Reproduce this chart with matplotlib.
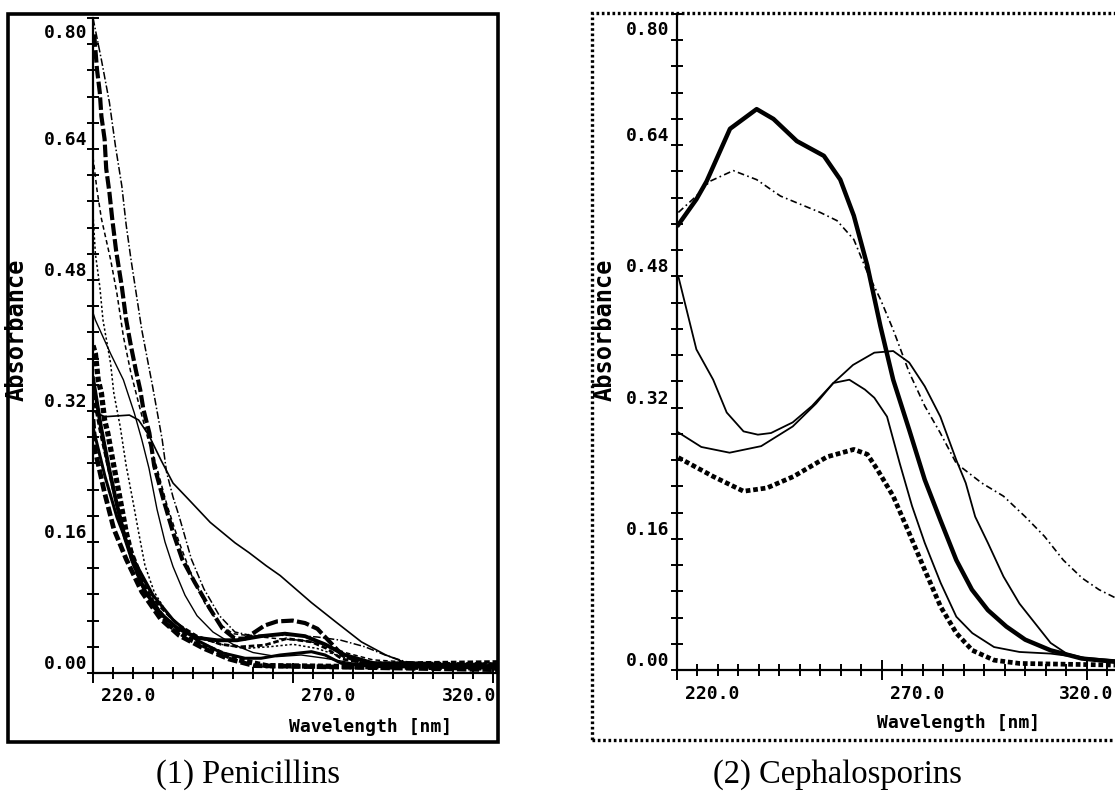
import matplotlib
matplotlib.use("Agg")
import matplotlib.pyplot as plt
from matplotlib.ticker import MultipleLocator, FixedLocator
from matplotlib.transforms import offset_copy
from matplotlib.patches import Rectangle

# ---------------- data ----------------
x_ticklabels = ["220.0", "270.0", "320.0"]
x_ticks = [220, 270, 320]
y_ticks = [0.00, 0.16, 0.32, 0.48, 0.64, 0.80]
y_ticklabels = ["0.00", "0.16", "0.32", "0.48", "0.64", "0.80"]
xlabel = "Wavelength [nm]"
ylabel = "Absorbance"
titles = ["(1) Penicillins", "(2) Cephalosporins"]

# Penicillins
pen1_x = [220, 222.1, 224.1, 225.6, 227.2, 228.3, 229.5, 232.2, 234.9, 237.3, 238.4, 240, 241.5, 244.6, 247.7,
          251.6, 255.5, 259.4, 264, 270, 276, 282, 288, 293, 298, 305, 321]
pen1_y = [0.80, 0.749, 0.697, 0.644, 0.595, 0.547, 0.505, 0.419, 0.35, 0.285, 0.245, 0.215, 0.192, 0.139, 0.103,
          0.07, 0.05, 0.046, 0.046, 0.046, 0.044, 0.04, 0.032, 0.022, 0.014, 0.011, 0.01]
pen2_x = [220.3, 221, 221.7, 222.1, 222.9, 223.3, 224.1, 224.8, 225.8, 227.2, 228.3, 229.5, 230.7, 231.8, 232.6,
          234.1, 235.3, 237.6, 240, 242.3, 245.4, 249.3, 252.4, 255.5, 258, 262.9, 266, 269.9, 273, 276.1, 279.2,
          282.3, 287, 295, 321]
pen2_y = [0.78, 0.737, 0.709, 0.68, 0.652, 0.616, 0.587, 0.555, 0.515, 0.472, 0.431, 0.399, 0.37, 0.346, 0.322,
          0.293, 0.253, 0.212, 0.172, 0.139, 0.111, 0.078, 0.054, 0.042, 0.042, 0.058, 0.063, 0.064, 0.061, 0.054,
          0.038, 0.022, 0.013, 0.01, 0.01]
pen3_x = [220, 220.6, 221.7, 222.5, 224.4, 225.2, 226.8, 228.3, 229.9, 231.4, 233, 235.3, 238.4, 242, 247, 252,
          258, 264, 270, 276, 282, 290, 321]
pen3_y = [0.56, 0.512, 0.472, 0.431, 0.378, 0.342, 0.301, 0.253, 0.212, 0.172, 0.131, 0.099, 0.074, 0.055, 0.042,
          0.035, 0.03, 0.032, 0.035, 0.03, 0.02, 0.013, 0.012]
pen4_x = [220, 221, 222.1, 224.4, 226, 227.6, 229.5, 231.8, 233.8, 236, 238.5, 241.5, 244.6, 248, 251.6, 255, 260,
          266, 272, 278, 283, 290, 300, 321]
pen4_y = [0.63, 0.59, 0.555, 0.505, 0.463, 0.411, 0.366, 0.322, 0.285, 0.25, 0.205, 0.16, 0.12, 0.085, 0.06, 0.048,
          0.045, 0.042, 0.04, 0.035, 0.025, 0.016, 0.013, 0.012]
pen5_x = [220, 220.6, 224.4, 227.6, 230.3, 232.2, 234, 236, 238, 240, 243, 246, 250, 255, 260, 266, 272, 278, 285,
          321]
pen5_y = [0.44, 0.431, 0.39, 0.358, 0.318, 0.285, 0.25, 0.2, 0.16, 0.13, 0.095, 0.07, 0.05, 0.035, 0.025, 0.02,
          0.022, 0.018, 0.012, 0.009]
pen6_x = [220, 222.9, 229.1, 231.4, 234, 237, 240, 243.9, 249.3, 255.5, 259, 263.3, 266.8, 274.6, 280.8, 287.1,
          293.2, 297.9, 305, 321]
pen6_y = [0.32, 0.313, 0.315, 0.309, 0.29, 0.26, 0.232, 0.212, 0.184, 0.159, 0.147, 0.131, 0.119, 0.086, 0.062,
          0.038, 0.022, 0.013, 0.011, 0.011]
pen7_x = [220, 220.6, 221.3, 222.1, 222.9, 223.7, 225.2, 226.8, 228.3, 229.9, 232.2, 235.3, 239.2, 243.9, 249.3,
          255.5, 263.3, 321]
pen7_y = [0.40, 0.39, 0.358, 0.342, 0.309, 0.293, 0.253, 0.212, 0.172, 0.139, 0.111, 0.082, 0.058, 0.042, 0.03,
          0.017, 0.009, 0.006]
pen8_x = [220, 220.6, 222.9, 225.2, 228.3, 232.2, 236.9, 241.5, 247.7, 254, 260.2, 321]
pen8_y = [0.31, 0.27, 0.22, 0.176, 0.139, 0.099, 0.066, 0.046, 0.03, 0.017, 0.009, 0.004]
pen9_x = [220, 222, 224, 226, 228, 230, 233, 237, 241, 246, 251, 256, 262, 268, 273, 278, 283, 290, 321]
pen9_y = [0.36, 0.30, 0.25, 0.205, 0.165, 0.135, 0.10, 0.072, 0.055, 0.043, 0.04, 0.04, 0.045, 0.048, 0.045,
          0.035, 0.022, 0.012, 0.008]
pen10_x = [220, 222, 225, 228, 232, 236, 241, 246, 252, 257, 262.9, 268.4, 274.6, 278.4, 282.3, 288, 321]
pen10_y = [0.34, 0.29, 0.225, 0.17, 0.12, 0.085, 0.06, 0.045, 0.035, 0.032, 0.034, 0.042, 0.038, 0.03, 0.017,
           0.012, 0.014]
pen11_x = [220, 223, 226, 230, 235, 240, 246, 252, 258, 262, 266.8, 274.6, 278, 282, 290, 321]
pen11_y = [0.30, 0.24, 0.19, 0.14, 0.095, 0.065, 0.04, 0.025, 0.018, 0.018, 0.022, 0.026, 0.022, 0.012, 0.008,
           0.006]

# Cephalosporins
cep1_x = [220.4, 224.8, 227.3, 233, 239.5, 243.6, 249.3, 255.9, 259.9, 263.2, 266.5, 269.7, 272.8, 276.7, 280.5,
          284.3, 288.2, 292, 295.9, 300.4, 305, 311.2, 318.8, 327]
cep1_y = [0.543, 0.574, 0.596, 0.66, 0.684, 0.672, 0.645, 0.627, 0.598, 0.554, 0.493, 0.419, 0.354, 0.293, 0.232,
          0.183, 0.134, 0.098, 0.073, 0.053, 0.037, 0.024, 0.014, 0.01]
cep2_x = [220.4, 224.8, 228.1, 233.8, 239.5, 245.3, 255, 259.1, 263.2, 266.5, 269.7, 272.8, 276.7, 280.5, 284.3,
          288.2, 294.4, 299.7, 305, 309.7, 314.3, 318.9, 323, 327]
cep2_y = [0.558, 0.578, 0.596, 0.609, 0.598, 0.578, 0.558, 0.548, 0.525, 0.485, 0.452, 0.415, 0.363, 0.322, 0.289,
          0.252, 0.228, 0.212, 0.187, 0.163, 0.134, 0.112, 0.098, 0.088]
cep3_x = [220.4, 224.8, 228.9, 232.2, 236.3, 239.8, 243, 248.3, 253, 258.2, 263, 268.2, 272.8, 276.7, 280.5, 284.3,
          288.2, 290.5, 292.8, 295.9, 299.7, 303.6, 307.4, 311.2, 315.1, 320, 327]
cep3_y = [0.48, 0.391, 0.354, 0.314, 0.291, 0.287, 0.289, 0.302, 0.322, 0.35, 0.372, 0.387, 0.389, 0.375, 0.346,
          0.309, 0.256, 0.228, 0.187, 0.155, 0.114, 0.081, 0.057, 0.033, 0.02, 0.014, 0.01]
cep4_x = [220, 226, 232.9, 240.6, 248.3, 254, 258.2, 262.1, 265.9, 268.2, 271.3, 274.4, 277.4, 280.5, 284.4, 288.2,
          292.1, 297.4, 303.6, 311.2, 319, 327]
cep4_y = [0.291, 0.272, 0.265, 0.273, 0.297, 0.325, 0.35, 0.354, 0.342, 0.332, 0.309, 0.252, 0.2, 0.155, 0.106,
          0.065, 0.045, 0.028, 0.022, 0.02, 0.015, 0.012]
cep5_x = [220.4, 228.9, 236.3, 242, 248.5, 256.7, 263.2, 266.5, 269, 272.8, 276.7, 280.5, 284.4, 288.2, 292.1, 297.4,
          303.6, 327]
cep5_y = [0.259, 0.236, 0.218, 0.222, 0.236, 0.26, 0.269, 0.263, 0.244, 0.212, 0.167, 0.122, 0.077, 0.045, 0.024,
          0.012, 0.008, 0.006]

# ---------------- figure ----------------
W, H = 1115, 797
fig = plt.figure(figsize=(W / 100, H / 100), dpi=100)


def fx(px):
    return px / W


def fy(py):
    return 1 - py / H


mono = dict(family="DejaVu Sans Mono", weight="bold", size=13)

# left panel: 220 nm at x=93 px, 4.0 px/nm; 0 at y=673, 0.80 at y=18
axL = fig.add_axes([fx(93), fy(673), (498 - 93) / W, (673 - 18) / H])
axL.set_xlim(220, 220 + (498 - 93) / 4.0)
# right panel: 220 nm at x=676.7 px, 4.1 px/nm; 0 at y=670, 0.80 at y=14
axR = fig.add_axes([fx(676.7), fy(670), (1115 - 676.7) / W, (670 - 14) / H])
axR.set_xlim(220, 220 + (1115 - 676.7) / 4.1)
for ax in (axL, axR):
    ax.set_ylim(0, 0.80)
    ax.patch.set_alpha(0)
    for s in ("top", "right"):
        ax.spines[s].set_visible(False)
    for s in ("left", "bottom"):
        ax.spines[s].set_linewidth(1.6)
    ax.xaxis.set_major_locator(FixedLocator(x_ticks))
    ax.xaxis.set_minor_locator(MultipleLocator(5))
    ax.yaxis.set_major_locator(FixedLocator(y_ticks))
    ax.yaxis.set_minor_locator(MultipleLocator(0.032))
    ax.tick_params(which="both", direction="inout", width=1.4, labelleft=False, labelbottom=False)
    ax.tick_params(axis="y", which="both", length=8)
    ax.tick_params(axis="x", which="minor", length=8)
    ax.tick_params(axis="x", which="major", length=14)

k = "black"
# Penicillin curves
axL.plot(pen1_x, pen1_y, color=k, lw=1.1, ls=(0, (5, 1.5, 1, 1.5)))
axL.plot(pen2_x, pen2_y, color=k, lw=3.0, ls=(0, (3, 0.8)))
axL.plot(pen3_x, pen3_y, color=k, lw=1.1, ls=(0, (1.5, 1.5)))
axL.plot(pen4_x, pen4_y, color=k, lw=1.1, ls=(0, (3, 2)))
axL.plot(pen5_x, pen5_y, color=k, lw=1.0)
axL.plot(pen6_x, pen6_y, color=k, lw=1.2)
axL.plot(pen7_x, pen7_y, color=k, lw=3.8, ls=(0, (1, 0.5)))
axL.plot(pen8_x, pen8_y, color=k, lw=3.4, ls=(0, (2, 0.7)))
axL.plot(pen9_x, pen9_y, color=k, lw=2.8)
axL.plot(pen10_x, pen10_y, color=k, lw=2.0, ls=(0, (2, 1)))
axL.plot(pen11_x, pen11_y, color=k, lw=2.2)

# Cephalosporin curves
axR.plot(cep1_x, cep1_y, color=k, lw=3.2)
axR.plot(cep2_x, cep2_y, color=k, lw=1.2, ls=(0, (4, 2, 1, 2)))
axR.plot(cep3_x, cep3_y, color=k, lw=1.3)
axR.plot(cep4_x, cep4_y, color=k, lw=1.3)
axR.plot(cep5_x, cep5_y, color=k, lw=3.4, ls=(0, (1, 0.6)))

# tick labels
for ax, top_off, xoff, ydown in ((axL, -20, -6, -14), (axR, -21, -7, -15)):
    xmax = ax.get_xlim()[1]
    for v, lab in zip(y_ticks, y_ticklabels):
        dy = top_off if v == 0.80 else 4
        tr = offset_copy(ax.get_yaxis_transform(), fig=fig, x=xoff, y=dy, units="dots")
        ax.text(0, v, lab, transform=tr, ha="right", va="baseline", clip_on=False, **mono)
    for v, lab in zip(x_ticks, x_ticklabels):
        if v == 320:
            # last label is right-aligned at the end of the axis
            tr = offset_copy(ax.get_xaxis_transform(), fig=fig, x=-2, y=ydown, units="dots")
            ax.text(1.0, 0, lab, transform=offset_copy(ax.transAxes, fig=fig, x=-2, y=ydown, units="dots"),
                    ha="right", va="top", clip_on=False, **mono)
        else:
            tr = offset_copy(ax.get_xaxis_transform(), fig=fig, x=8, y=ydown, units="dots")
            ax.text(v, 0, lab, transform=tr, ha="left", va="top", clip_on=False, **mono)

# axis titles
fig.text(fx(452), fy(727), xlabel, ha="right", va="center", **mono)
fig.text(fx(1040), fy(723), xlabel, ha="right", va="center", **mono)
fig.text(fx(17), fy(330), ylabel, rotation=90, ha="center", va="center",
         family="DejaVu Sans Mono", weight="bold", size=17)
fig.text(fx(605), fy(330), ylabel, rotation=90, ha="center", va="center",
         family="DejaVu Sans Mono", weight="bold", size=17)

# frames
fig.add_artist(Rectangle((fx(8), fy(742)), (498 - 8) / W, (742 - 14) / H, transform=fig.transFigure,
                         fill=False, lw=2.6, ec="black"))
fig.add_artist(Rectangle((fx(592), fy(740)), (1125 - 592) / W, (740 - 13) / H, transform=fig.transFigure,
                         fill=False, lw=2.4, ec="black", ls=(0, (0.8, 0.8))))

# captions
fig.text(fx(248), fy(775), titles[0], ha="center", va="center", family="Liberation Serif", size=23.5)
fig.text(fx(837), fy(775), titles[1], ha="center", va="center", family="Liberation Serif", size=23.5)

fig.savefig("out.png", dpi=100)
